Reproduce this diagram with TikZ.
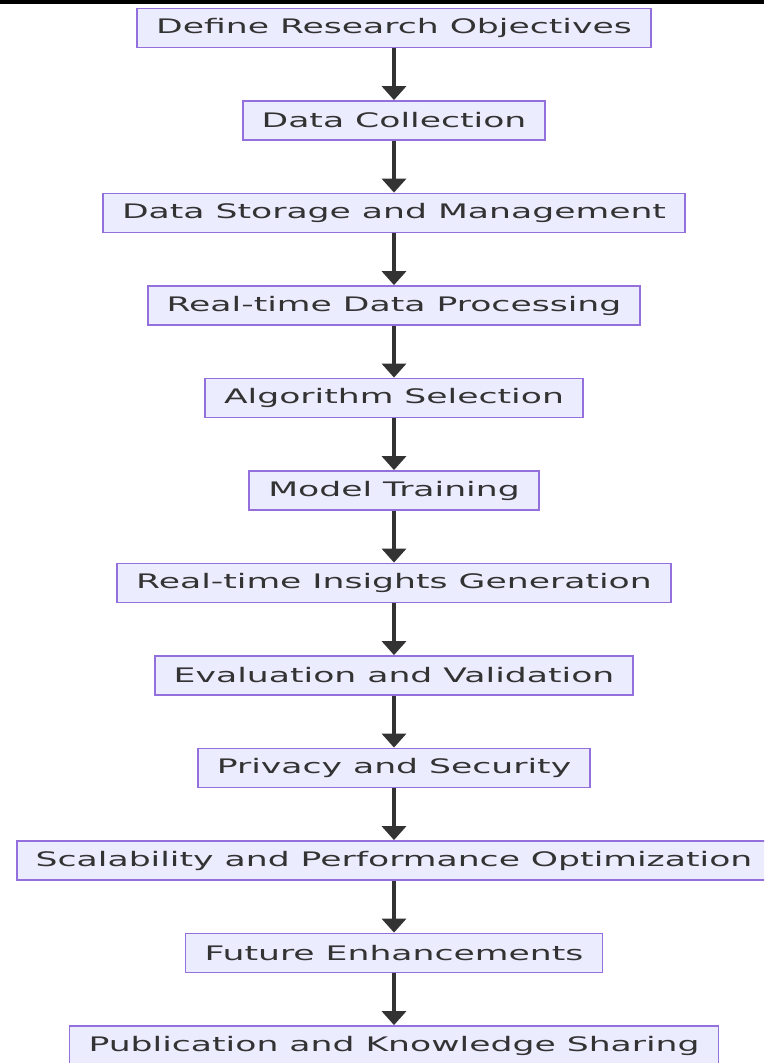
\documentclass[tikz,border=0pt]{standalone}
\usepackage{fontspec}
\setmainfont{DejaVu Sans}
\usepackage{graphicx}
\usetikzlibrary{positioning,arrows.meta}
\definecolor{boxfill}{HTML}{ECECFF}
\definecolor{boxline}{HTML}{9370DB}
\definecolor{textcol}{HTML}{333333}
\definecolor{arrowcol}{HTML}{333333}
\newcommand{\wide}[1]{\scalebox{1.73}[1]{#1}}

\begin{document}
\begin{tikzpicture}[x=1pt,y=1pt,
  stepbox/.style={draw=boxline, fill=boxfill, line width=1.8pt,
    text=textcol, font=\fontsize{20}{23}\selectfont,
    minimum height=39pt, inner xsep=19pt, inner ysep=0pt},
  flow/.style={draw=arrowcol, line width=4pt,
    -{Triangle[width=24pt,length=14pt]}},
  node distance=51.7pt]
\useasboundingbox (0,0) rectangle (764,-1063);
\clip (0,0) rectangle (764,-1063);
\fill[black] (0,0) rectangle (764,-4);

\node[stepbox] (objectives) at (394,-28) {\wide{Define Research Objectives}};
\node[stepbox, below=of objectives] (collection) {\wide{Data Collection}};
\node[stepbox, below=of collection] (storage) {\wide{Data Storage and Management}};
\node[stepbox, below=of storage] (processing) {\wide{Real-time Data Processing}};
\node[stepbox, below=of processing] (algorithm) {\wide{Algorithm Selection}};
\node[stepbox, below=of algorithm] (training) {\wide{Model Training}};
\node[stepbox, below=of training] (insights) {\wide{Real-time Insights Generation}};
\node[stepbox, below=of insights] (evaluation) {\wide{Evaluation and Validation}};
\node[stepbox, below=of evaluation] (privacy) {\wide{Privacy and Security}};
\node[stepbox, below=of privacy] (scalability) {\wide{Scalability and Performance Optimization}};
\node[stepbox, below=of scalability] (future) {\wide{Future Enhancements}};
\node[stepbox, below=of future] (publication) {\wide{Publication and Knowledge Sharing}};

\foreach \a/\b in {objectives/collection, collection/storage, storage/processing,
  processing/algorithm, algorithm/training, training/insights,
  insights/evaluation, evaluation/privacy, privacy/scalability,
  scalability/future, future/publication}
  \draw[flow] (\a) -- (\b);
\end{tikzpicture}
\end{document}
